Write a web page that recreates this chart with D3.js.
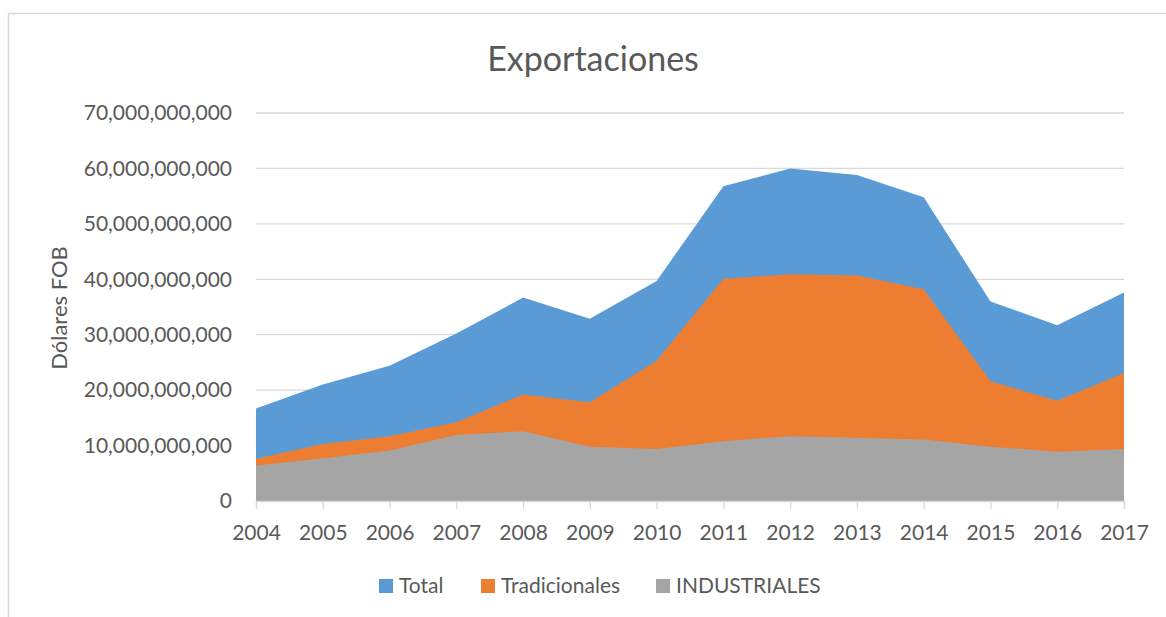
<!DOCTYPE html>
<html>
<head>
<meta charset="utf-8">
<script src="https://cdn.jsdelivr.net/npm/d3@7"></script>
<style>
  body { margin: 0; background: #fff; }
  svg text { font-family: Lato, "Open Sans", sans-serif; fill: #595959; }
</style>
</head>
<body>
<svg id="chart"></svg>
<script>
// years on the x axis
var years = [2004, 2005, 2006, 2007, 2008, 2009, 2010, 2011, 2012, 2013, 2014, 2015, 2016, 2017];
// values in billions of dollars
var total = [16.7, 21.0, 24.4, 30.2, 36.7, 32.9, 39.7, 56.8, 60.0, 58.8, 54.8, 36.0, 31.7, 37.6];
var tradicionales = [7.6, 10.3, 11.7, 14.2, 19.2, 17.8, 25.3, 40.1, 40.9, 40.7, 38.2, 21.6, 18.1, 23.1];
var industriales = [6.4, 7.7, 9.1, 11.9, 12.6, 9.8, 9.4, 10.8, 11.7, 11.4, 11.1, 9.8, 8.9, 9.4];
var yTicks = [0, 10e9, 20e9, 30e9, 40e9, 50e9, 60e9, 70e9];

var seriesNames = ['Total', 'Tradicionales', 'INDUSTRIALES'];
var seriesColors = ['#5B9BD5', '#ED7D31', '#A5A5A5'];
var seriesValues = [total, tradicionales, industriales];

var WIDTH = 1166, HEIGHT = 617;
var plotLeft = 256, plotRight = 1124, plotTop = 113, plotBottom = 501;

var svg = d3.select('#chart').attr('width', WIDTH).attr('height', HEIGHT);

// outer chart frame (cut off on the right and bottom)
svg.append('path')
  .attr('d', 'M8.5,' + HEIGHT + 'V13.5H' + WIDTH)
  .attr('fill', 'none')
  .attr('stroke', '#D9D9D9')
  .attr('stroke-width', 1.5);

var x = d3.scaleLinear().domain([2004, 2017]).range([plotLeft, plotRight]);
var y = d3.scaleLinear().domain([0, 70e9]).range([plotBottom, plotTop]);

// gridlines
svg.append('g')
  .selectAll('line')
  .data(yTicks.slice(1))
  .enter().append('line')
  .attr('x1', plotLeft).attr('x2', plotRight)
  .attr('y1', function (d) { return y(d); })
  .attr('y2', function (d) { return y(d); })
  .attr('stroke', '#D9D9D9')
  .attr('stroke-width', 1.3);

// areas, each drawn from zero, overlapping
var area = d3.area()
  .x(function (d, i) { return x(years[i]); })
  .y0(y(0))
  .y1(function (d) { return y(d * 1e9); });

svg.append('g')
  .selectAll('path')
  .data(seriesValues)
  .enter().append('path')
  .attr('d', area)
  .attr('fill', function (d, i) { return seriesColors[i]; });

// x axis
var xAxis = d3.axisBottom(x)
  .tickValues(years)
  .tickFormat(d3.format('d'))
  .tickSize(8)
  .tickPadding(16);

var gx = svg.append('g')
  .attr('transform', 'translate(0,' + plotBottom + ')')
  .call(xAxis);
gx.select('.domain').attr('stroke', '#D9D9D9').attr('stroke-width', 1.3);
gx.selectAll('.tick line').attr('stroke', '#D9D9D9').attr('stroke-width', 1.3);
gx.selectAll('.tick text').attr('font-size', 21).attr('fill', '#595959');

// y axis
var yAxis = d3.axisLeft(y)
  .tickValues(yTicks)
  .tickFormat(d3.format(','))
  .tickSize(0)
  .tickPadding(24);

var gy = svg.append('g')
  .attr('transform', 'translate(' + plotLeft + ',0)')
  .call(yAxis);
gy.select('.domain').remove();
gy.selectAll('.tick text').attr('font-size', 21).attr('fill', '#595959');

// title
svg.append('text')
  .attr('x', 593)
  .attr('y', 71)
  .attr('text-anchor', 'middle')
  .attr('font-size', 34)
  .text('Exportaciones');

// y axis title
svg.append('text')
  .attr('transform', 'translate(67,' + 308 + ') rotate(-90)')
  .attr('text-anchor', 'middle')
  .attr('font-size', 22)
  .text('Dólares FOB');

// legend
var legendX = [379, 481, 656];
var legend = svg.append('g')
  .selectAll('g')
  .data(seriesNames)
  .enter().append('g')
  .attr('transform', function (d, i) { return 'translate(' + legendX[i] + ',579)'; });

legend.append('rect')
  .attr('width', 14).attr('height', 14)
  .attr('fill', function (d, i) { return seriesColors[i]; });

legend.append('text')
  .attr('x', 20)
  .attr('y', 14)
  .attr('font-size', 21)
  .text(function (d) { return d; });
</script>
</body>
</html>
